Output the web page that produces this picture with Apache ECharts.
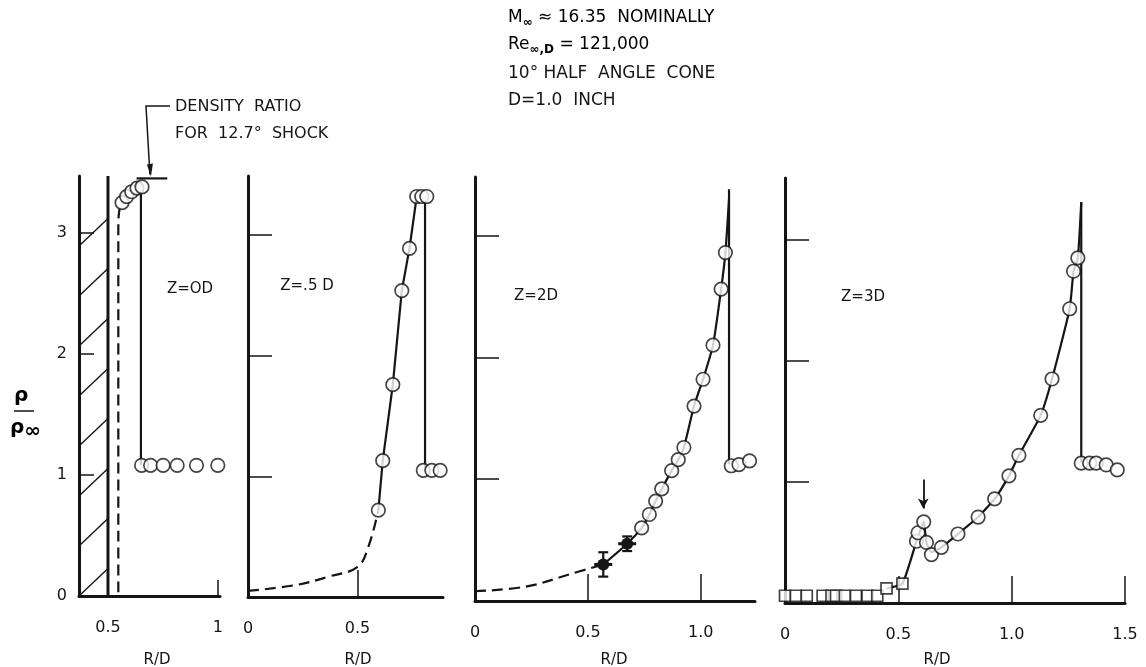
<!DOCTYPE html>
<html><head><meta charset="utf-8">
<script src="https://cdn.jsdelivr.net/npm/echarts@6/dist/echarts.min.js"></script>
<style>html,body{margin:0;padding:0;background:#fff}#c{width:1146px;height:667px}</style>
</head><body><div id="c"></div>
<script>
const FONT = 'DejaVu Sans';
// ---------- Panel 1 : Z = 0D ----------
const coneEdge = 0.5;                       // cone surface R/D
const p1Circles = [[0.564,3.25],[0.585,3.30],[0.608,3.34],[0.632,3.37],[0.655,3.38]];
const p1Post    = [[0.653,1.08],[0.694,1.08],[0.751,1.08],[0.815,1.08],[0.903,1.08],[1.0,1.08]];
const p1Shock   = [[0.65,3.42],[0.65,1.08]];
const p1Dashed  = [[0.547,0.03],[0.547,3.05],[0.552,3.19],[0.564,3.25]];
const p1Density = [[0.63,3.45],[0.77,3.45]];
// ---------- Panel 2 : Z = .5D ----------
const p2Circles = [[0.595,0.72],[0.615,1.13],[0.661,1.76],[0.702,2.54],[0.737,2.89],[0.77,3.32],[0.793,3.32],[0.816,3.32]];
const p2Post    = [[0.80,1.05],[0.839,1.05],[0.877,1.05]];
const p2Curve   = [[0.595,0.72],[0.615,1.13],[0.661,1.76],[0.702,2.54],[0.737,2.89],[0.77,3.32],[0.808,3.32]];
const p2Shock   = [[0.808,3.32],[0.808,1.05]];
const p2Dashed  = [[0,0.05],[0.22,0.10],[0.37,0.17],[0.5,0.25],[0.55,0.42],[0.595,0.72]];
// ---------- Panel 3 : Z = 2D ----------
const p3Circles = [[0.738,0.60],[0.772,0.71],[0.80,0.82],[0.827,0.92],[0.871,1.07],[0.90,1.16],[0.925,1.26],[0.97,1.60],[1.01,1.82],[1.054,2.10],[1.09,2.56],[1.109,2.86]];
const p3Filled  = [[0.568,0.30,0.10],[0.674,0.47,0.06]];   // x, y, error half-width
const p3Post    = [[1.135,1.11],[1.169,1.12],[1.216,1.15],[1.253,1.15]];
const p3Curve   = [[0.568,0.30],[0.674,0.47],[0.738,0.60],[0.772,0.71],[0.80,0.82],[0.827,0.92],[0.871,1.07],[0.90,1.16],[0.925,1.26],[0.97,1.60],[1.01,1.82],[1.054,2.10],[1.09,2.56],[1.109,2.86],[1.125,3.30]];
const p3Shock   = [[1.125,3.38],[1.125,1.12]];
const p3Dashed  = [[0,0.08],[0.23,0.12],[0.42,0.22],[0.568,0.30]];
// ---------- Panel 4 : Z = 3D ----------
const p4Squares = [[0.0,0.06],[0.048,0.06],[0.096,0.06],[0.166,0.06],[0.205,0.06],[0.225,0.06],[0.264,0.06],[0.313,0.06],[0.364,0.06],[0.407,0.06],[0.448,0.12],[0.518,0.16]];
const p4Circles = [[0.580,0.51],[0.587,0.58],[0.612,0.67],[0.624,0.50],[0.646,0.40],[0.690,0.46],[0.763,0.57],[0.852,0.71],[0.925,0.86],[0.988,1.05],[1.032,1.22],[1.128,1.55],[1.178,1.85],[1.256,2.43],[1.273,2.74],[1.292,2.85]];
const p4Post    = [[1.307,1.155],[1.344,1.155],[1.373,1.155],[1.417,1.14],[1.466,1.10]];
const p4Curve   = [[0.448,0.12],[0.518,0.16],[0.580,0.51],[0.612,0.67],[0.624,0.50],[0.646,0.42],[0.690,0.46],[0.763,0.57],[0.852,0.71],[0.925,0.86],[0.988,1.05],[1.032,1.22],[1.128,1.55],[1.178,1.85],[1.256,2.43],[1.273,2.74],[1.292,2.85],[1.307,3.31]];
const p4Shock   = [[1.307,3.31],[1.307,1.16]];
const p4Arrow   = [[0.61,1.02],[0.61,0.78]];
// ---------- axes ----------
const xRanges     = [[0.368,1.01],[0,0.89],[0,1.24],[0,1.5]];
const yMaxes      = [3.47,3.49,3.48,3.51];
const xLabelVals  = [[0.5,1],[0,0.5],[0,0.5,1.0],[0,0.5,1.0,1.5]];
const xLabelTexts = [['0.5','1'],['0','0.5'],['0','0.5','1.0'],['0','0.5','1.0','1.5']];
const xTickVals   = [[1],[0.5],[0.5,1.0],[0.5,1.0,1.5]];
const yLabelVals  = [0,1,2,3];
const yTickVals   = [1,2,3];
const panelNames  = ['Z=OD','Z=.5 D','Z=2D','Z=3D'];

const INK = '#151515';
const gridBoxes = [
  {left:79,  top:176, width:141, height:420},
  {left:248, top:176, width:195, height:421},
  {left:475, top:177, width:280, height:424},
  {left:785, top:178, width:340, height:425}
];
const chart = echarts.init(document.getElementById('c'), null, {renderer:'canvas'});

const xAxes = gridBoxes.map((g,i)=>({
  type:'value', gridIndex:i, min:xRanges[i][0], max:xRanges[i][1],
  axisLine:{show:true, onZero:false, lineStyle:{color:INK, width:3}},
  splitLine:{show:false},
  axisTick:{show:true, inside:true, length:i===0?16:27, customValues:xTickVals[i], lineStyle:{color:INK,width:1.5}},
  axisLabel:{show:true, customValues:xLabelVals[i], margin:24, color:INK, fontFamily:FONT, fontSize:16,
    formatter:(v)=>{const k=xLabelVals[i].findIndex(a=>Math.abs(a-v)<1e-6); return k>=0?xLabelTexts[i][k]:'';}}
}));
const yAxes = gridBoxes.map((g,i)=>({
  type:'value', gridIndex:i, min:0, max:yMaxes[i],
  axisLine:{show:true, onZero:false, lineStyle:{color:INK, width:3}},
  splitLine:{show:false},
  axisTick:{show:true, inside:true, length:i===0?15:24, customValues:yTickVals, lineStyle:{color:INK,width:1.5}},
  axisLabel:{show:i===0, customValues:yLabelVals, margin:12, color:INK, fontFamily:FONT, fontSize:16}
}));

function openCircles(data, i){
  return {type:'scatter', xAxisIndex:i, yAxisIndex:i, data, symbol:'circle', symbolSize:13.5, z:5,
    itemStyle:{color:'#fff', borderColor:INK, borderWidth:1.7}, silent:true};
}
function squares(data, i){
  return {type:'scatter', xAxisIndex:i, yAxisIndex:i, data, symbol:'rect', symbolSize:11, z:5,
    itemStyle:{color:'#fff', borderColor:INK, borderWidth:1.7}, silent:true};
}
function solid(data, i, w, smooth){
  return {type:'line', xAxisIndex:i, yAxisIndex:i, data, symbol:'none', smooth:smooth||false, z:3,
    lineStyle:{color:INK, width:w||2.2}, silent:true};
}
function dashed(data, i){
  return {type:'line', xAxisIndex:i, yAxisIndex:i, data, symbol:'none', smooth:0.4, z:3,
    lineStyle:{color:INK, width:2.2, type:[11,6]}, silent:true};
}

const series = [
  // panel 1: hatched cone body
  {type:'custom', xAxisIndex:0, yAxisIndex:0, data:[[coneEdge,0]], silent:true, z:2, clip:false,
   renderItem:(params, api)=>{
     const bl = api.coord([xRanges[0][0],0]);
     const tr = api.coord([api.value(0), yMaxes[0]]);
     const kids = [{type:'line', shape:{x1:tr[0],y1:bl[1],x2:tr[0],y2:tr[1]}, style:{stroke:INK,lineWidth:3}}];
     const w = tr[0]-bl[0], rise = w*0.95;
     for (let y=bl[1]; y-rise>tr[1]; y-=50){
       kids.push({type:'line', shape:{x1:bl[0],y1:y,x2:tr[0],y2:y-rise}, style:{stroke:INK,lineWidth:1.4}});
     }
     return {type:'group', children:kids};
   }},
  dashed(p1Dashed,0),
  solid(p1Shock,0,2.2),
  solid(p1Density,0,2.2),
  openCircles(p1Circles,0),
  openCircles(p1Post,0),
  // panel 2
  dashed(p2Dashed,1),
  solid(p2Curve,1,2.2),
  solid(p2Shock,1,2.2),
  openCircles(p2Circles,1),
  openCircles(p2Post,1),
  // panel 3
  dashed(p3Dashed,2),
  solid(p3Curve,2,2.2,0.2),
  solid(p3Shock,2,2.2),
  openCircles(p3Circles,2),
  openCircles(p3Post,2),
  {type:'custom', xAxisIndex:2, yAxisIndex:2, data:p3Filled, silent:true, z:6,
   renderItem:(params, api)=>{
     const x=api.value(0), y=api.value(1), e=api.value(2);
     const c=api.coord([x,y]), lo=api.coord([x,y-e]), hi=api.coord([x,y+e]);
     const st={stroke:INK,lineWidth:2.2};
     return {type:'group', children:[
       {type:'line', shape:{x1:c[0],y1:lo[1],x2:c[0],y2:hi[1]}, style:st},
       {type:'line', shape:{x1:c[0]-5,y1:lo[1],x2:c[0]+5,y2:lo[1]}, style:st},
       {type:'line', shape:{x1:c[0]-5,y1:hi[1],x2:c[0]+5,y2:hi[1]}, style:st},
       {type:'line', shape:{x1:c[0]-9,y1:c[1],x2:c[0]+9,y2:c[1]}, style:{stroke:INK,lineWidth:3}},
       {type:'circle', shape:{cx:c[0],cy:c[1],r:6}, style:{fill:INK}}
     ]};
   }},
  // panel 4
  solid(p4Curve,3,2.2,0.15),
  solid(p4Shock,3,2.2),
  squares(p4Squares,3),
  openCircles(p4Circles,3),
  openCircles(p4Post,3),
  {type:'line', xAxisIndex:3, yAxisIndex:3, data:[], symbol:'none', silent:true,
   markLine:{silent:true, symbol:['none','arrow'], symbolSize:[8,10], label:{show:false},
     lineStyle:{color:INK, width:1.8, type:'solid'},
     data:[[{coord:p4Arrow[0]},{coord:p4Arrow[1]}]]}}
];

const txt = (x,y,text,size,extra)=>Object.assign({type:'text', x, y, silent:true,
  style:Object.assign({text, fill:INK, font:`${size||16}px "${FONT}"`, textVerticalAlign:'middle'}, extra||{})});

const headerRich = {
  n:{fontFamily:FONT, fontSize:17, color:INK},
  s:{fontFamily:FONT, fontSize:12, fontWeight:'bold', color:INK, padding:[10,0,0,0]}
};
const graphics = [
  {type:'text', left:508, top:9, silent:true, style:{text:'{n|M}{s|∞}{n| ≈ 16.35  NOMINALLY}', rich:headerRich}},
  {type:'text', left:508, top:36, silent:true, style:{text:'{n|Re}{s|∞,D}{n| = 121,000}', rich:headerRich}},
  txt(508,74,'10° HALF  ANGLE  CONE',17),
  txt(508,101,'D=1.0  INCH',17),
  txt(175,107,'DENSITY  RATIO',16),
  txt(175,134,'FOR  12.7°  SHOCK',16),
  txt(190,289,panelNames[0],15,{textAlign:'center'}),
  txt(307,286,panelNames[1],15,{textAlign:'center'}),
  txt(536,296,panelNames[2],15,{textAlign:'center'}),
  txt(863,297,panelNames[3],15,{textAlign:'center'}),
  txt(157,660,'R/D',15,{textAlign:'center'}),
  txt(358,660,'R/D',15,{textAlign:'center'}),
  txt(614,660,'R/D',15,{textAlign:'center'}),
  txt(937,660,'R/D',15,{textAlign:'center'}),
  {type:'text', left:14, top:386, silent:true, style:{text:'{a|ρ}', rich:{
     a:{fontFamily:FONT, fontSize:20, fontWeight:'bold', color:INK}}}},
  {type:'line', silent:true, shape:{x1:14,y1:411,x2:34,y2:411}, style:{stroke:INK,lineWidth:1.5}},
  {type:'text', left:10, top:418, silent:true, style:{text:'{a|ρ}{b|∞}', rich:{
     a:{fontFamily:FONT, fontSize:20, fontWeight:'bold', color:INK},
     b:{fontFamily:FONT, fontSize:20, fontWeight:'bold', color:INK, padding:[8,0,0,0]}}}}
];

chart.setOption({
  animation:false,
  backgroundColor:'#fff',
  grid: gridBoxes.map(g=>Object.assign({containLabel:false}, g)),
  xAxis: xAxes, yAxis: yAxes, series, graphic: graphics
});

// leader from the note to the density-ratio mark (anchored in data coordinates)
const mid = chart.convertToPixel({gridIndex:0}, [(p1Density[0][0]+p1Density[1][0])/2, p1Density[0][1]]);
chart.setOption({graphic: graphics.concat([
  {type:'polyline', silent:true, shape:{points:[[170,106],[146,106],[mid[0]-2,mid[1]-4]]}, style:{stroke:INK, lineWidth:1.5, fill:null}},
  {type:'polygon', silent:true, shape:{points:[[mid[0]-5,mid[1]-14],[mid[0]+1,mid[1]-15],[mid[0]-1,mid[1]-2]]}, style:{fill:INK}}
])});
</script></body></html>
